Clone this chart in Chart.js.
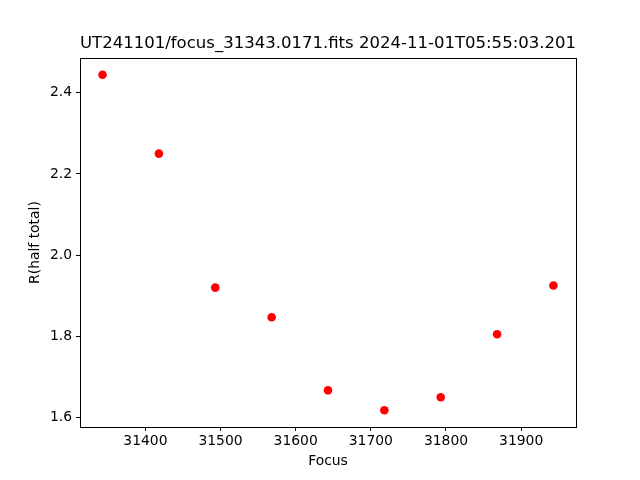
<!DOCTYPE html>
<html>
<head>
<meta charset="utf-8">
<script src="https://cdn.jsdelivr.net/npm/chart.js@4/dist/chart.umd.min.js"></script>
<style>
  html, body { margin: 0; padding: 0; background: #fff; }
  #wrap { width: 640px; height: 480px; }
</style>
</head>
<body>
<div id="wrap"><canvas id="focusChart" width="640" height="480"></canvas></div>
<script>
    "use strict";

    // focus positions and measured R(half total)
    var focusValues = [31343, 31418, 31493, 31568, 31643, 31718, 31793, 31868, 31943];
    var radiusValues = [2.444, 2.250, 1.920, 1.847, 1.667, 1.618, 1.650, 1.805, 1.925];
    var xTicks = [31400, 31500, 31600, 31700, 31800, 31900];
    var yTicks = [1.6, 1.8, 2.0, 2.2, 2.4];
    var chartTitle = "UT241101/focus_31343.0171.fits 2024-11-01T05:55:03.201";

    var fontFamily = "'DejaVu Sans', sans-serif";

    // matplotlib-like 5% margins
    var xSpan = focusValues[focusValues.length - 1] - focusValues[0];
    var yLow = Math.min.apply(null, radiusValues);
    var yHigh = Math.max.apply(null, radiusValues);
    var ySpan = yHigh - yLow;

    var points = focusValues.map(function (f, i) {
        return { x: f, y: radiusValues[i] };
    });

    // draw the full frame around the plot area
    var frameBox = {
        id: "frameBox",
        afterDraw: function (chart) {
            var a = chart.chartArea;
            var ctx = chart.ctx;
            ctx.save();
            ctx.strokeStyle = "#000";
            ctx.lineWidth = 1;
            ctx.strokeRect(Math.round(a.left) + 0.5, Math.round(a.top) + 0.5,
                Math.round(a.right - a.left), Math.round(a.bottom - a.top));
            ctx.restore();
        }
    };

    const ctx = document.getElementById("focusChart").getContext("2d");
    new Chart(ctx, {
        type: "scatter",
        data: {
            datasets: [
                {
                    data: points,
                    backgroundColor: "#ff0000",
                    borderWidth: 0,
                    pointRadius: 4.3,
                    pointHoverRadius: 4.3,
                },
            ],
        },
        options: {
            responsive: false,
            animation: false,
            events: [],
            layout: {
                padding: { left: 0, right: 64, top: 0, bottom: 0 },
            },
            scales: {
                x: {
                    type: "linear",
                    min: focusValues[0] - xSpan * 0.05,
                    max: focusValues[focusValues.length - 1] + xSpan * 0.05,
                    afterBuildTicks: function (scale) {
                        scale.ticks = xTicks.map(function (v) { return { value: v }; });
                    },
                    afterFit: function (scale) {
                        scale.height = 53;
                    },
                    ticks: {
                        color: "#000",
                        font: { family: fontFamily, size: 13.9 },
                        padding: 2,
                        maxRotation: 0,
                        callback: function (value) { return String(value); },
                    },
                    grid: {
                        drawOnChartArea: false,
                        drawTicks: true,
                        tickLength: 4,
                        color: "#000",
                    },
                    border: { display: true, color: "#000" },
                    title: {
                        display: true,
                        text: "Focus",
                        color: "#000",
                        font: { family: fontFamily, size: 13.9 },
                        padding: { top: 2, bottom: 10 },
                    },
                },
                y: {
                    type: "linear",
                    min: yLow - ySpan * 0.05,
                    max: yHigh + ySpan * 0.05,
                    afterBuildTicks: function (scale) {
                        scale.ticks = yTicks.map(function (v) { return { value: v }; });
                    },
                    afterFit: function (scale) {
                        scale.width = 80;
                    },
                    ticks: {
                        color: "#000",
                        font: { family: fontFamily, size: 13.9 },
                        padding: 4,
                        callback: function (value) { return Number(value).toFixed(1); },
                    },
                    grid: {
                        drawOnChartArea: false,
                        drawTicks: true,
                        tickLength: 4,
                        color: "#000",
                    },
                    border: { display: true, color: "#000" },
                    title: {
                        display: true,
                        text: "R(half total)",
                        color: "#000",
                        font: { family: fontFamily, size: 13.9 },
                        padding: { top: 27, bottom: 4 },
                    },
                },
            },
            plugins: {
                legend: { display: false },
                tooltip: { enabled: false },
                title: {
                    display: true,
                    fullSize: false,
                    text: chartTitle,
                    color: "#000",
                    font: { family: fontFamily, size: 16.7, weight: "normal" },
                    padding: { top: 34, bottom: 4 },
                },
            },
        },
        plugins: [frameBox],
    });
</script>
</body>
</html>
